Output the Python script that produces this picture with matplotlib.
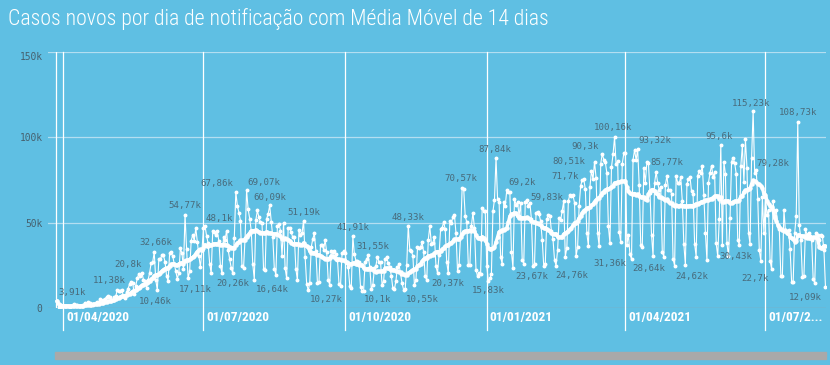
import matplotlib
matplotlib.use('Agg')
import matplotlib.pyplot as plt
import matplotlib.transforms as mtransforms
from matplotlib import font_manager
from matplotlib.patches import Rectangle
import numpy as np
import pandas as pd

# casos novos por dia (milhares), a partir de 28/03/2020, uma linha por semana (sab..sex)
inicio = '2020-03-28'
casos_mil = [
    3.91, 0.35, 0.32, 1.14, 1.12, 1.21, 1.01,
    1.30, 0.77, 1.03, 1.87, 2.21, 1.93, 1.78,
    1.09, 1.44, 1.26, 1.83, 3.06, 2.11, 3.26,
    2.92, 2.06, 1.93, 2.50, 2.68, 3.74, 3.50,
    5.51, 3.38, 4.61, 5.39, 6.28, 7.22, 6.21,
    4.97, 4.59, 6.63, 6.94, 10.50, 9.89, 10.22,
    10.61, 6.76, 5.63, 9.26, 11.38, 13.94, 15.31,
    14.92, 7.94, 13.14, 17.41, 19.95, 18.51, 20.80,
    16.51, 15.81, 11.69, 16.32, 20.60, 26.42, 26.93,
    32.66, 16.41, 10.46, 28.94, 28.63, 30.93, 30.83,
    27.08, 18.91, 15.65, 32.09, 32.91, 30.41, 25.98,
    21.70, 17.11, 20.65, 34.92, 32.19, 22.77, 54.77,
    34.67, 17.46, 21.43, 39.44, 42.73, 39.48, 46.86,
    38.69, 30.48, 24.05, 33.85, 46.71, 48.10, 42.22,
    37.92, 26.05, 20.23, 45.31, 44.57, 42.62, 45.05,
    39.02, 24.83, 20.29, 41.86, 39.92, 45.40, 34.18,
    28.53, 23.53, 20.26, 41.01, 67.86, 59.96, 55.89,
    51.15, 24.58, 23.28, 40.82, 69.07, 57.84, 52.38,
    45.39, 25.80, 16.64, 51.60, 57.15, 53.14, 50.23,
    49.97, 23.01, 22.05, 52.16, 55.16, 60.09, 50.64,
    41.58, 23.10, 19.37, 47.78, 49.30, 45.32, 30.36,
    50.03, 23.42, 17.49, 47.13, 47.16, 44.24, 41.35,
    41.35, 23.00, 16.16, 45.96, 42.66, 43.77, 51.19,
    30.17, 14.28, 10.27, 14.52, 35.82, 40.56, 43.72,
    33.52, 14.77, 15.16, 36.65, 36.82, 34.23, 39.80,
    33.06, 16.39, 13.44, 33.54, 32.82, 33.28, 31.91,
    28.38, 14.32, 13.16, 32.06, 33.41, 32.00, 26.31,
    24.06, 13.14, 11.95, 41.91, 31.55, 27.75, 27.44,
    26.75, 12.34, 10.10, 10.22, 27.24, 28.52, 30.91,
    24.06, 10.98, 13.49, 23.23, 24.82, 30.03, 26.98,
    27.06, 13.33, 15.73, 28.63, 29.79, 26.11, 23.98,
    18.95, 11.50, 10.92, 16.00, 23.98, 25.55, 20.00,
    14.50, 10.55, 10.92, 25.00, 48.33, 33.92, 33.46,
    30.47, 13.37, 16.21, 35.50, 35.29, 35.92, 38.40,
    32.62, 18.62, 16.21, 40.00, 47.90, 37.61, 38.31,
    41.74, 24.47, 20.55, 31.10, 46.10, 46.88, 50.43,
    46.00, 26.78, 20.37, 51.09, 49.86, 53.35, 54.43,
    43.90, 21.83, 25.19, 42.91, 70.57, 69.83, 54.00,
    50.18, 25.02, 25.02, 47.98, 55.89, 46.70, 22.27,
    18.57, 20.55, 20.05, 58.72, 56.77, 56.65, 24.60,
    15.83, 17.34, 20.01, 56.65, 63.43, 87.84, 64.00,
    62.29, 29.79, 25.82, 61.96, 60.00, 69.20, 68.00,
    67.76, 33.04, 23.67, 64.03, 60.50, 62.00, 54.00,
    61.80, 28.32, 26.00, 61.96, 63.52, 59.83, 61.81,
    52.00, 24.59, 25.87, 55.75, 56.44, 54.82, 50.87,
    40.00, 24.59, 26.00, 52.00, 54.30, 53.99, 45.00,
    40.30, 28.20, 24.76, 34.00, 52.90, 51.50, 57.00,
    62.70, 30.10, 35.10, 62.90, 66.50, 65.90, 66.00,
    61.60, 30.35, 35.80, 59.90, 71.70, 75.10, 75.50,
    69.60, 43.80, 36.20, 70.80, 80.51, 75.40, 85.70,
    76.20, 43.80, 36.20, 84.50, 90.30, 86.98, 85.40,
    79.10, 47.80, 38.00, 82.50, 89.99, 100.16, 84.20,
    85.90, 44.30, 38.90, 84.50, 90.60, 91.10, 37.00,
    42.98, 31.36, 28.64, 86.98, 92.60, 86.65, 93.32,
    71.80, 37.00, 35.80, 82.20, 73.50, 85.77, 85.00,
    67.60, 42.90, 30.60, 73.40, 79.70, 73.30, 69.10,
    71.10, 32.60, 30.10, 72.10, 77.40, 69.40, 69.40,
    67.00, 28.90, 24.62, 77.40, 73.40, 73.30, 76.70,
    62.60, 37.50, 25.20, 72.70, 75.40, 76.70, 68.30,
    67.00, 37.50, 30.10, 77.60, 80.10, 79.20, 83.40,
    66.00, 44.00, 28.00, 73.50, 79.20, 83.40, 76.90,
    79.70, 37.90, 30.43, 52.00, 95.60, 37.00, 85.50,
    78.70, 37.90, 30.40, 52.90, 85.70, 88.10, 85.10,
    78.70, 39.80, 37.00, 83.00, 95.40, 74.00, 98.80,
    82.30, 44.20, 37.50, 87.80, 115.23, 79.28, 81.00,
    64.10, 33.70, 27.80, 64.90, 43.80, 65.20, 54.60,
    57.70, 27.80, 22.70, 62.50, 53.70, 57.70, 47.80,
    46.00, 19.00, 19.00, 57.70, 45.00, 45.00, 45.60,
    34.30, 15.30, 15.30, 44.00, 54.00, 108.73, 48.50,
    40.00, 18.00, 19.00, 46.00, 43.00, 44.00, 42.00,
    40.00, 17.00, 14.60, 44.00, 43.00, 40.00, 43.00,
    42.00, 34.00, 12.09,
]

marcas = ['2020-04-01', '2020-07-01', '2020-10-01', '2021-01-01', '2021-04-01', '2021-07-01']
marcas_txt = ['01/04/2020', '01/07/2020', '01/10/2020', '01/01/2021', '01/04/2021', '01/07/2...']

# rotulos de valor: texto, data e altura (milhares) onde aparecem
rotulos = [
    ('3,91k', '2020-04-07', 8.8), ('11,38k', '2020-05-01', 16.4), ('20,8k', '2020-05-13', 25.2),
    ('32,66k', '2020-05-31', 38.1), ('10,46k', '2020-05-31', 4.1), ('54,77k', '2020-06-19', 59.8),
    ('17,11k', '2020-06-26', 11.1), ('67,86k', '2020-07-10', 72.7), ('48,1k', '2020-07-11', 52.7),
    ('20,26k', '2020-07-20', 14.6), ('69,07k', '2020-08-09', 73.8), ('60,09k', '2020-08-13', 65.0),
    ('16,64k', '2020-08-15', 11.1), ('51,19k', '2020-09-04', 56.2), ('10,27k', '2020-09-19', 4.7),
    ('41,91k', '2020-10-06', 46.9), ('31,55k', '2020-10-19', 36.3), ('10,1k', '2020-10-22', 4.7),
    ('48,33k', '2020-11-11', 53.3), ('10,55k', '2020-11-20', 4.7), ('70,57k', '2020-12-15', 75.6),
    ('20,37k', '2020-12-07', 14.6), ('87,84k', '2021-01-06', 92.6), ('15,83k', '2021-01-02', 10.0),
    ('69,2k', '2021-01-24', 73.8), ('23,67k', '2021-01-30', 18.2), ('59,83k', '2021-02-09', 65.0),
    ('80,51k', '2021-02-23', 86.1), ('71,7k', '2021-02-21', 76.8), ('24,76k', '2021-02-25', 19.3),
    ('90,3k', '2021-03-06', 94.9), ('100,16k', '2021-03-24', 105.5), ('31,36k', '2021-03-22', 25.8),
    ('93,32k', '2021-04-20', 98.4), ('85,77k', '2021-04-28', 85.0), ('28,64k', '2021-04-16', 22.9),
    ('95,6k', '2021-06-01', 100.2), ('24,62k', '2021-05-14', 18.7), ('115,23k', '2021-06-22', 120.1),
    ('108,73k', '2021-07-22', 114.3), ('79,28k', '2021-07-06', 84.4), ('30,43k', '2021-06-12', 29.9),
    ('22,7k', '2021-06-24', 17.0), ('12,09k', '2021-07-27', 6.4),
]

datas = pd.date_range(inicio, periods=len(casos_mil), freq='D')
casos = pd.Series(np.array(casos_mil) * 1000, index=datas)
media = casos.rolling(14, min_periods=1).mean()

fundo = '#5fbfe3'
cinza = '#46616f'

# procura uma fonte estreita instalada; senao usa Roboto e encolhe o texto
nomes = {f.name for f in font_manager.fontManager.ttflist}
estreita = None
for n in ['Roboto Condensed', 'Open Sans Condensed', 'Liberation Sans Narrow', 'Noto Sans Condensed']:
    if n in nomes:
        estreita = n
        break
if estreita is None:
    estreita = 'Roboto' if 'Roboto' in nomes else 'DejaVu Sans'
familia = [estreita, 'DejaVu Sans']

fig = plt.figure(figsize=(8.3, 3.65), dpi=100, facecolor=fundo)
ax = fig.add_axes([48 / 830, 57 / 365, 778 / 830, 256 / 365], facecolor=fundo)

ax.set_xlim(pd.Timestamp('2020-03-22'), pd.Timestamp('2021-08-09 08:00'))
ax.set_ylim(0, 150000)

for v in [50000, 100000, 150000]:
    ax.axhline(v, color='#b3def1', lw=0.9, zorder=1)
ax.axhline(0, color='#8fa3ad', lw=1, zorder=1)

xt = ax.get_xaxis_transform()
for d in marcas:
    ax.plot([pd.Timestamp(d)] * 2, [-0.086, 1], transform=xt, color='white',
            lw=0.9, clip_on=False, zorder=1)
ax.plot([datas[0] - pd.Timedelta(days=1)] * 2, [0, 1], transform=xt, color='white', lw=0.9, zorder=1)

txt_off = mtransforms.offset_copy(xt, fig=fig, x=3, y=0, units='dots')
datas_txt = []
for d, t in zip(marcas, marcas_txt):
    datas_txt.append(ax.text(pd.Timestamp(d), -0.038, t, transform=txt_off, ha='left', va='center',
                             color='white', fontsize=10, fontweight='bold', family=familia))

ax.plot(casos.index, casos.values, color='white', lw=0.8, marker='o', ms=1.8, zorder=3)
ax.plot(media.index, media.values, color='white', lw=2.4, marker='o', ms=2.2, zorder=4)

for t, d, y in rotulos:
    ax.text(pd.Timestamp(d), y * 1000, t, ha='center', va='center', fontsize=6.6,
            family='DejaVu Sans Mono', color=cinza, alpha=0.9, zorder=5, clip_on=False)

ax.set_xticks([])
ax.set_yticks([0, 50000, 100000, 150000])
ax.set_yticklabels(['0', '50k', '100k', '150k'], family='DejaVu Sans Mono', fontsize=6.9, color=cinza)
ax.tick_params(axis='y', length=0, pad=4)
ax.get_yticklabels()[-1].set_va('top')
for s in ax.spines.values():
    s.set_visible(False)

titulo = fig.text(8 / 830, 1 - 19 / 365, 'Casos novos por dia de notificação com Média Móvel de 14 dias',
                  ha='left', va='center', color='white', fontsize=15, fontweight='light', family=familia)

fig.patches.append(Rectangle((55 / 830, 6 / 365), 771 / 830, 7 / 365, transform=fig.transFigure,
                             color='#a9a9a9', zorder=0))

# ajusta tamanhos para a largura vista no original
fig.canvas.draw()
r = fig.canvas.get_renderer()
w = titulo.get_window_extent(r).width
titulo.set_fontsize(15 * 542 / w)
w = datas_txt[0].get_window_extent(r).width
for t in datas_txt:
    t.set_fontsize(10 * 63 / w)

fig.savefig('out.png', dpi=100, facecolor=fundo)
